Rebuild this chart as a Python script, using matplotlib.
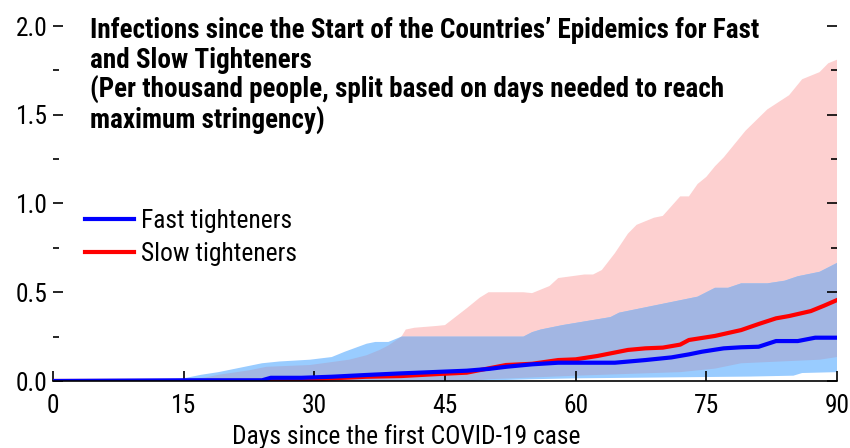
import numpy as np
import matplotlib
matplotlib.use("Agg")
import matplotlib.pyplot as plt

plt.rcParams['font.family'] = ['Roboto Condensed', 'Archivo Narrow', 'DejaVu Sans']

# fast tighteners: interquartile band and median
fast_up_days = [0, 13, 15, 17, 19, 21, 24, 26, 29.5, 32, 33.5, 36, 37, 38.5, 40, 54, 55, 56, 58.5,
                64, 65, 72, 74, 76, 77.5, 79, 82, 84, 85.5, 88, 90]
fast_up = [0, 0, 0.015, 0.035, 0.05, 0.07, 0.10, 0.11, 0.12, 0.135, 0.165, 0.21, 0.22, 0.22, 0.25,
           0.25, 0.275, 0.29, 0.315, 0.36, 0.385, 0.455, 0.475, 0.525, 0.525, 0.55, 0.55, 0.565,
           0.59, 0.615, 0.665]
fast_lo_days = [0, 48, 55, 60, 70, 80, 85, 86, 90]
fast_lo = [0, 0, 0.01, 0.015, 0.02, 0.025, 0.03, 0.045, 0.05]
fast_med_days = [0, 15, 24, 25, 28.5, 32, 36, 40, 44.5, 47.5, 50, 52, 55, 58, 64.5, 68, 71, 73,
                 74.5, 77, 79, 81, 83, 85.5, 87.5, 90]
fast_med = [0, 0.004, 0.004, 0.018, 0.018, 0.024, 0.034, 0.043, 0.052, 0.058, 0.068, 0.08, 0.094,
            0.103, 0.103, 0.118, 0.133, 0.15, 0.165, 0.184, 0.19, 0.193, 0.225, 0.225, 0.244, 0.244]

# slow tighteners
slow_up_days = [0, 15, 17.5, 19, 22.5, 24.5, 29.5, 31, 34, 36, 37.5, 38.5, 40, 40.5, 41.5, 44, 45,
                47.5, 49, 50, 54, 55, 57, 58, 61, 62, 63, 64.5, 66, 67, 69, 70, 72, 73, 74, 75, 76,
                77, 79.5, 82, 84.5, 86, 88, 89, 90]
slow_up = [0, 0.005, 0.02, 0.035, 0.06, 0.08, 0.09, 0.10, 0.12, 0.145, 0.175, 0.20, 0.25, 0.29,
           0.30, 0.31, 0.315, 0.41, 0.47, 0.50, 0.50, 0.495, 0.535, 0.58, 0.60, 0.60, 0.625, 0.72,
           0.83, 0.88, 0.92, 0.93, 1.04, 1.04, 1.11, 1.15, 1.21, 1.26, 1.41, 1.53, 1.61, 1.70, 1.74,
           1.79, 1.81]
slow_lo_days = [0, 48, 50, 55, 60, 66, 72, 76, 79, 83.5, 88, 90]
slow_lo = [0, 0, 0.01, 0.02, 0.03, 0.04, 0.05, 0.07, 0.10, 0.11, 0.12, 0.135]
slow_med_days = [0, 24, 28.5, 32, 36, 40, 44.5, 47.5, 50, 52, 55, 58, 60, 62.5, 66, 68, 70, 72, 73,
                 76, 79, 81, 83, 84.5, 87, 88.5, 90]
slow_med = [0, 0, 0.005, 0.015, 0.024, 0.028, 0.04, 0.047, 0.071, 0.09, 0.097, 0.118, 0.122, 0.141,
            0.175, 0.184, 0.188, 0.205, 0.231, 0.254, 0.287, 0.321, 0.353, 0.366, 0.394, 0.424, 0.456]

x_ticks = [0, 15, 30, 45, 60, 75, 90]
y_ticks = [0.0, 0.5, 1.0, 1.5, 2.0]

title = ("Infections since the Start of the Countries\u2019 Epidemics for Fast\n"
         "and Slow Tighteners\n"
         "(Per thousand people, split based on days needed to reach\n"
         "maximum stringency)")

PINK = '#fdd0d0'
LBLUE = '#99ccff'
OVER = '#a2b6e3'
FS = 18.4


def band(ax, xu, yu, xl, yl, color):
    xs = np.concatenate([xu, xl[::-1]])
    ys = np.concatenate([yu, yl[::-1]])
    return ax.fill(xs, ys, color=color, lw=0)[0]


fig = plt.figure(figsize=(8.5, 4.48), dpi=100)
ax = fig.add_axes([53/850, 1-381/448, 784/850, 355/448])

pink = band(ax, slow_up_days, slow_up, slow_lo_days, slow_lo, PINK)
band(ax, fast_up_days, fast_up, fast_lo_days, fast_lo, LBLUE)
ov = band(ax, fast_up_days, fast_up, fast_lo_days, fast_lo, OVER)
ov.set_clip_path(pink)   # overlap of the two bands

ax.plot(slow_med_days, slow_med, color='#ff0000', lw=3, label='Slow tighteners')
ax.plot(fast_med_days, fast_med, color='#0000ff', lw=3, label='Fast tighteners')

ax.set_xlim(0, 90)
ax.set_ylim(0, 2.0)
ax.set_xticks(x_ticks)
ax.set_yticks(y_ticks)
ax.set_yticks(np.arange(0.25, 2.0, 0.5), minor=True)
ax.set_yticklabels([f'{v:.1f}' for v in y_ticks])

for s in ['top', 'left', 'right']:
    ax.spines[s].set_visible(False)
ax.spines['bottom'].set_linewidth(1.2)

ax.tick_params(axis='x', direction='in', length=7, width=1.2, labelsize=FS, pad=9)
ax.tick_params(axis='y', which='major', direction='in', length=7, width=1.2,
               left=True, right=True, labelsize=FS, pad=4)
ax.tick_params(axis='y', which='minor', direction='in', length=4, width=1.2,
               left=True, right=True)

ax.set_xlabel('Days since the first COVID-19 case', fontsize=FS)
ax.xaxis.set_label_coords(0.45, -0.12)

ax.text(0.047, 1.025, title, transform=ax.transAxes, ha='left', va='top',
        fontsize=19.5, fontweight='bold', linespacing=1.12)

h, l = ax.get_legend_handles_labels()
ax.legend(h[::-1], l[::-1], loc='upper left', bbox_to_anchor=(0.041, 0.484), frameon=False,
          fontsize=FS, handlelength=1.9, handletextpad=0.3, borderpad=0, borderaxespad=0,
          labelspacing=0.36)

fig.savefig('out.png', dpi=100)
